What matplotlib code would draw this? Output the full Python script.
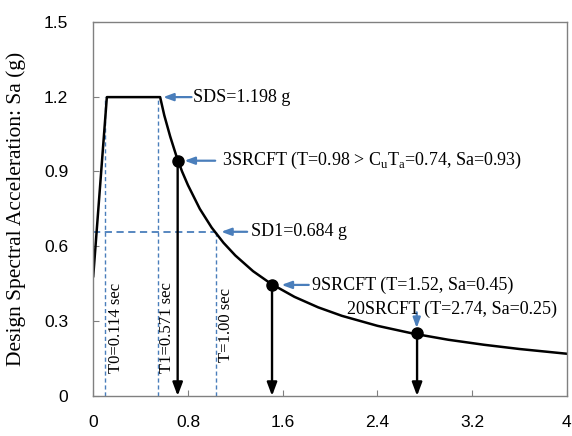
import matplotlib
matplotlib.use("Agg")
import matplotlib.pyplot as plt

plt.rcParams['mathtext.fontset'] = 'custom'
plt.rcParams['mathtext.rm'] = 'Liberation Serif'

# design spectrum
period = [0, 0.115, 0.565, 0.6, 0.65, 0.7, 0.75, 0.8, 0.9, 1.0, 1.1, 1.2, 1.35,
          1.5, 1.7, 1.9, 2.1, 2.4, 2.7, 3.0, 3.3, 3.6, 4.0]
sa = [0.48, 1.198, 1.198, 1.125, 1.04, 0.965, 0.90, 0.845, 0.75, 0.675, 0.614,
      0.563, 0.50, 0.45, 0.397, 0.355, 0.321, 0.281, 0.25, 0.225, 0.205, 0.188, 0.169]

# buildings
bld_T = [0.713, 1.51, 2.735]
bld_sa = [0.943, 0.445, 0.253]

# guide lines
t0, t1, t_one = 0.10, 0.546, 1.04
sds, sd1_line = 1.198, 0.658

blue = '#4A7EBB'
serif = 'Liberation Serif'
sans = 'Liberation Sans'

fig = plt.figure(figsize=(5.72, 4.36), dpi=100)
ax = fig.add_axes([0.163, 0.092, 0.828, 0.858])

ax.plot([t0, t0], [0, sds], color=blue, lw=1, ls=(0, (3, 2)))
ax.plot([t1, t1], [0, sds], color=blue, lw=1, ls=(0, (3, 2)))
ax.plot([t_one, t_one], [0, sd1_line], color=blue, lw=1, ls=(0, (3, 2)))
ax.plot([0, t_one], [sd1_line, sd1_line], color=blue, lw=1.3, ls=(0, (4, 2.5)))

ax.plot(period, sa, color='black', lw=1.8)

for x, y in zip(bld_T, bld_sa):
    ax.annotate('', xy=(x, 0.0), xytext=(x, y),
                arrowprops=dict(arrowstyle='-|>,head_length=0.8,head_width=0.3',
                                color='black', lw=1.7, shrinkA=0, shrinkB=0))
ax.plot(bld_T, bld_sa, 'o', color='black', ms=8)

def blue_arrow(xy, xytext):
    ax.annotate('', xy=xy, xytext=xytext,
                arrowprops=dict(arrowstyle='-|>,head_length=0.6,head_width=0.22',
                                color=blue, lw=1.6, shrinkA=0, shrinkB=0))

blue_arrow((0.59, sds), (0.83, sds))
ax.text(0.845, sds, 'SDS=1.198 g', family=serif, fontsize=13, va='center')

blue_arrow((0.77, 0.943), (1.03, 0.943))
ax.text(1.085, 0.943, r'3SRCFT (T=0.98 > C$_\mathrm{u}$T$_\mathrm{a}$=0.74, Sa=0.93)',
        family=serif, fontsize=13, va='center')

blue_arrow((1.08, sd1_line), (1.3, sd1_line))
ax.text(1.335, sd1_line, 'SD1=0.684 g', family=serif, fontsize=13, va='center')

blue_arrow((1.59, 0.445), (1.82, 0.445))
ax.text(1.845, 0.445, '9SRCFT (T=1.52, Sa=0.45)', family=serif, fontsize=13, va='center')

blue_arrow((2.732, 0.272), (2.732, 0.335))
ax.text(2.14, 0.349, '20SRCFT (T=2.74, Sa=0.25)', family=serif, fontsize=13, va='center')

ax.text(0.19, 0.09, 'T0=0.114 sec', family=serif, fontsize=12, rotation=90,
        ha='center', va='bottom')
ax.text(0.625, 0.09, 'T1=0.571 sec', family=serif, fontsize=12, rotation=90,
        ha='center', va='bottom')
ax.text(1.12, 0.135, 'T=1.00 sec', family=serif, fontsize=12, rotation=90,
        ha='center', va='bottom')

ax.set_xlim(0, 4)
ax.set_ylim(0, 1.5)
ax.set_xticks([0, 0.8, 1.6, 2.4, 3.2, 4])
ax.set_xticklabels(['0', '0.8', '1.6', '2.4', '3.2', '4'])
ax.set_yticks([0, 0.3, 0.6, 0.9, 1.2, 1.5])
ax.set_yticklabels(['0', '0.3', '0.6', '0.9', '1.2', '1.5'])
ax.tick_params(direction='in', length=4, color='#808080', labelsize=12.5, pad=14)
ax.tick_params(axis='y', pad=18)
for lab in ax.get_xticklabels() + ax.get_yticklabels():
    lab.set_family(sans)
for s in ax.spines.values():
    s.set_color('#808080')
    s.set_linewidth(1)

ax.set_ylabel('Design Spectral Acceleration: Sa (g)', family=serif, fontsize=15.5, labelpad=13)

fig.savefig('out.png', dpi=100)
